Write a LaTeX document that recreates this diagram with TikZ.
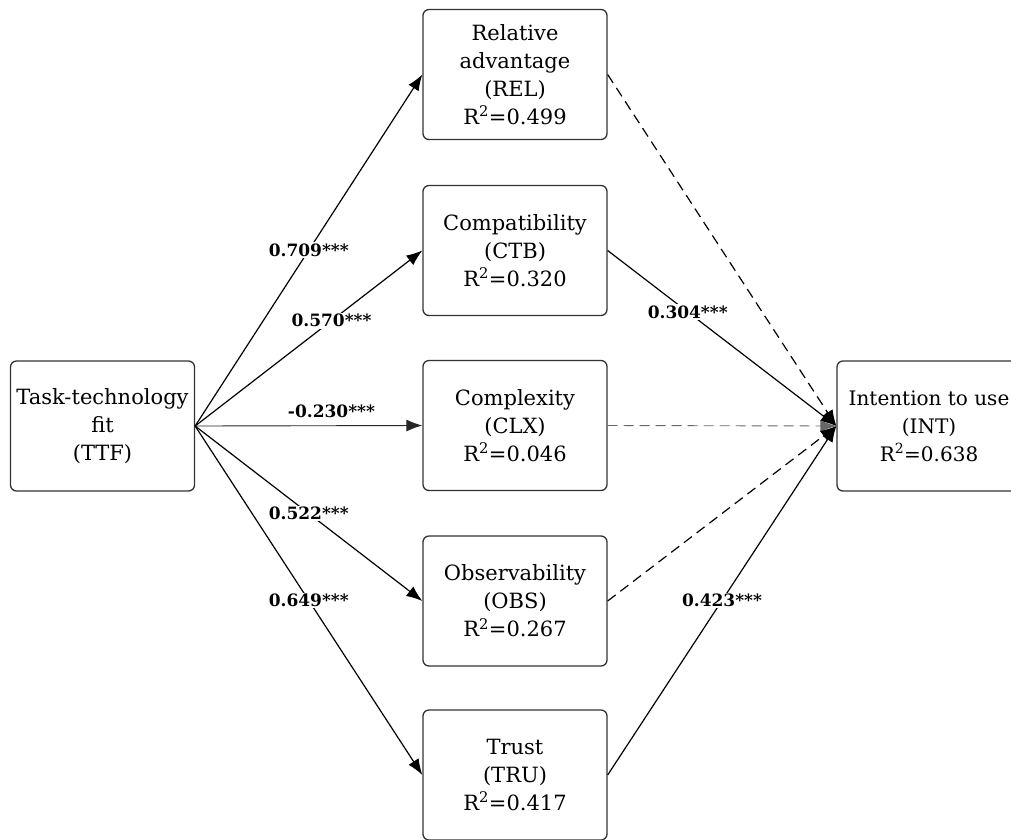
\documentclass[tikz,border=0pt]{standalone}
\usepackage{fontspec}
\setmainfont{DejaVu Serif}
\usetikzlibrary{positioning}
\usetikzlibrary{arrows.meta}

\tikzset{
  construct/.style={draw=black!80, line width=1.3pt, rounded corners=6pt,
    minimum width=184pt, minimum height=130pt, inner sep=2pt, align=center,
    font=\fontsize{21}{28}\selectfont},
  sigpath/.style={-{Latex[length=16pt,width=12pt]}, line width=1.2pt},
  nspath/.style={-{Latex[length=16pt,width=12pt]}, line width=1.2pt, dash pattern=on 10pt off 6pt},
  coef/.style={font=\fontsize{17}{20}\selectfont\bfseries, fill=white, inner sep=1.5pt}
}

\begin{document}
\begin{tikzpicture}[x=1pt,y=-1pt]
\useasboundingbox (0,0) rectangle (1011,839);
% constructs
\node[construct] (TTF) at (102.5,426) {Task-technology\\fit\\(TTF)};
\node[construct] (REL) at (515,74.5) {Relative\\advantage\\(REL)\\R\textsuperscript{2}=0.499};
\node[construct] (CTB) at (515,250.5) {Compatibility\\(CTB)\\R\textsuperscript{2}=0.320};
\node[construct] (CLX) at (515,425.5) {Complexity\\(CLX)\\R\textsuperscript{2}=0.046};
\node[construct] (OBS) at (515,601) {Observability\\(OBS)\\R\textsuperscript{2}=0.267};
\node[construct] (TRU) at (515,775) {Trust\\(TRU)\\R\textsuperscript{2}=0.417};
\node[construct,font=\fontsize{20}{28}\selectfont] (INT) at (929,426) {Intention to use\\(INT)\\R\textsuperscript{2}=0.638};
% TTF paths
\draw[sigpath] (TTF.east) -- node[coef,pos=0.5] {0.709***} (REL.west);
\draw[sigpath] (TTF.east) -- node[coef,pos=0.6] {0.570***} (CTB.west);
\draw[sigpath,line width=0.9pt,draw=black!85] (TTF.east) -- node[coef,pos=0.6,above=6pt,fill=none] {-0.230***} (CLX.west);
\draw[sigpath] (TTF.east) -- node[coef,pos=0.5] {0.522***} (OBS.west);
\draw[sigpath] (TTF.east) -- node[coef,pos=0.5] {0.649***} (TRU.west);
% paths to intention
\draw[nspath] (REL.east) -- (INT.west);
\draw[sigpath] (CTB.east) -- node[coef,pos=0.35] {0.304***} (INT.west);
\draw[nspath,line width=0.9pt,draw=black!60] (CLX.east) -- (INT.west);
\draw[nspath] (OBS.east) -- (INT.west);
\draw[sigpath] (TRU.east) -- node[coef,pos=0.5] {0.423***} (INT.west);
\end{tikzpicture}
\end{document}
